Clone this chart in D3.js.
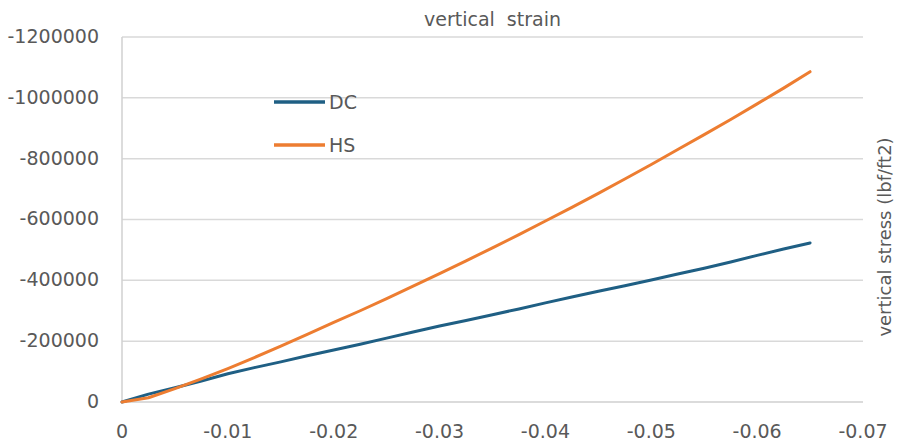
<!DOCTYPE html>
<html>
<head>
<meta charset="utf-8">
<script src="https://cdn.jsdelivr.net/npm/d3@7/dist/d3.min.js"></script>
<style>
  html, body { margin: 0; padding: 0; background: #ffffff; }
  svg { display: block; }
  text { font-family: "DejaVu Sans", sans-serif; fill: #595959; }
</style>
</head>
<body>
<svg id="chart" width="900" height="442"></svg>
<script>
// ---- data ----
const strain = [0, -0.0025, -0.005, -0.0075, -0.01, -0.0125, -0.015, -0.0175, -0.02, -0.0225,
  -0.025, -0.0275, -0.03, -0.0325, -0.035, -0.0375, -0.04, -0.0425, -0.045, -0.0475,
  -0.05, -0.0525, -0.055, -0.0575, -0.06, -0.0625, -0.065];
const stressDC = [0, -26000, -47000, -69000, -93000, -113000, -132000, -152000, -171000, -190000,
  -210000, -230000, -250000, -268000, -287000, -306000, -326000, -345000, -364000, -382000,
  -401000, -421000, -440000, -460000, -482000, -503000, -523000];
const stressHS = [0, -14000, -44000, -76000, -110000, -146000, -184000, -222000, -262000, -300000,
  -340000, -381000, -422000, -464000, -507000, -550000, -595000, -640000, -686000, -733000,
  -781000, -830000, -879000, -929000, -980000, -1032000, -1086000];
const seriesNames = ["DC", "HS"];
const seriesColors = ["#1f5f84", "#ed7d31"];
const xTicks = [0, -0.01, -0.02, -0.03, -0.04, -0.05, -0.06, -0.07];
const yTicks = [0, -200000, -400000, -600000, -800000, -1000000, -1200000];
const xTitle = "vertical strain";
const yTitle = "vertical stress (lbf/ft2)";

// ---- layout ----
const svg = d3.select("#chart");
const pLeft = 122, pRight = 863, pTop = 37, pBottom = 402;

const x = d3.scaleLinear().domain([0, -0.07]).range([pLeft, pRight]);
const y = d3.scaleLinear().domain([0, -1200000]).range([pBottom, pTop]);

// gridlines
svg.append("g").selectAll("line").data(yTicks).join("line")
  .attr("x1", pLeft).attr("x2", pRight)
  .attr("y1", d => y(d)).attr("y2", d => y(d))
  .attr("stroke", d => d === 0 ? "#cfcfcf" : "#d9d9d9")
  .attr("stroke-width", 1.5);

// left axis line
svg.append("line")
  .attr("x1", pLeft).attr("x2", pLeft).attr("y1", pTop).attr("y2", pBottom)
  .attr("stroke", "#d0d0d0").attr("stroke-width", 1.5);

// y tick labels
svg.append("g").selectAll("text").data(yTicks).join("text")
  .attr("x", 99).attr("y", d => y(d) - 1)
  .attr("dy", "0.36em")
  .attr("text-anchor", "end")
  .style("font-size", "19px")
  .text(d => String(d));

// x tick labels
svg.append("g").selectAll("text").data(xTicks).join("text")
  .attr("x", d => x(d)).attr("y", 438)
  .attr("text-anchor", "middle")
  .style("font-size", "19px")
  .text(d => d === 0 ? "0" : d.toFixed(2));

// titles
svg.append("text")
  .attr("x", (pLeft + pRight) / 2).attr("y", 26)
  .attr("text-anchor", "middle")
  .style("font-size", "19px")
  .style("word-spacing", "6px")
  .text(xTitle);

svg.append("text")
  .attr("transform", "translate(891,237) rotate(-90)")
  .attr("text-anchor", "middle")
  .style("font-size", "18px")
  .text(yTitle);

// lines
const seriesData = [stressDC, stressHS];
const line = d3.line().x(d => x(d[0])).y(d => y(d[1]));
seriesData.forEach((vals, i) => {
  svg.append("path")
    .datum(strain.map((s, k) => [s, vals[k]]))
    .attr("fill", "none")
    .attr("stroke", seriesColors[i])
    .attr("stroke-width", 3)
    .attr("stroke-linejoin", "round")
    .attr("stroke-linecap", "round")
    .attr("d", line);
});

// legend
const legendY = [102, 145];
seriesNames.forEach((n, i) => {
  svg.append("line")
    .attr("x1", 274).attr("x2", 325)
    .attr("y1", legendY[i]).attr("y2", legendY[i])
    .attr("stroke", seriesColors[i]).attr("stroke-width", 3.5);
  svg.append("text")
    .attr("x", 329).attr("y", legendY[i])
    .attr("dy", "0.36em")
    .style("font-size", "19px")
    .text(n);
});
</script>
</body>
</html>
